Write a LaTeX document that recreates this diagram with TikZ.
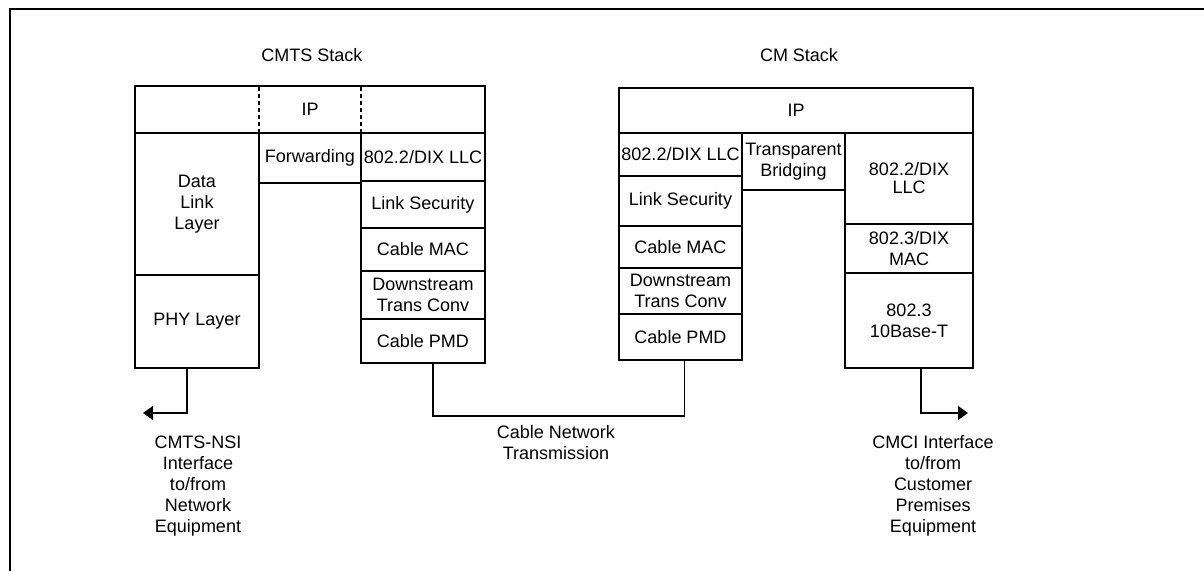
\documentclass[tikz,border=0pt]{standalone}
\usepackage{fontspec}
\setmainfont{Liberation Sans}
\usepackage{tikz}
\usetikzlibrary{positioning, arrows.meta}
\tikzstyle{arrow} = [line width=1.3pt,-{Triangle[length=10pt,width=14pt]}]
\tikzstyle{wire} = [line width=1.3pt]
\tikzstyle{dots} = [line width=1.3pt, dash pattern=on 4pt off 3pt]
\tikzstyle{layer} = [rectangle, draw=black, line width=1.3pt, inner sep=0pt, outer sep=0pt, align=center, text centered]
\tikzstyle{txt} = [align=center, inner sep=0pt]

\begin{document}
\begin{tikzpicture}[x=1pt, y=-1pt, every node/.style={font=\fontsize{18}{21}\selectfont}]
\useasboundingbox (0,0) rectangle (1204,571);
\draw [line width=2pt] (9.5,571) -- (9.5,9) -- (1204,9);

% CMTS stack
\node (cmtsTitle) [txt] at (312,55) {CMTS Stack};
\node (cmtsIP) [layer, anchor=north west, minimum width=350pt, minimum height=47pt] at (135,86) {IP};
\node (dll) [layer, below right=0pt of cmtsIP.south west, minimum width=124pt, minimum height=142pt] {Data\\Link\\Layer};
\node (phy) [layer, below=0pt of dll, minimum width=124pt, minimum height=93pt] {PHY Layer};
\node (fwd) [layer, below right=0pt of dll.north east, minimum width=102pt, minimum height=50pt] {Forwarding};
\node (cmtsLlc) [layer, below right=0pt of fwd.north east, minimum width=124pt, minimum height=48pt] {802.2/DIX LLC};
\node (cmtsSec) [layer, below=0pt of cmtsLlc, minimum width=124pt, minimum height=47pt] {Link Security};
\node (cmtsMac) [layer, below=0pt of cmtsSec, minimum width=124pt, minimum height=43pt] {Cable MAC};
\node (cmtsTc) [layer, below=0pt of cmtsMac, minimum width=124pt, minimum height=48pt] {Downstream\\Trans Conv};
\node (cmtsPmd) [layer, below=0pt of cmtsTc, minimum width=124pt, minimum height=44pt] {Cable PMD};
\draw [dots] (fwd.north west) -- (fwd.north west |- cmtsIP.north);
\draw [dots] (fwd.north east) -- (fwd.north east |- cmtsIP.north);

% CM stack
\node (cmTitle) [txt] at (799,55) {CM Stack};
\node (cmIP) [layer, anchor=north west, minimum width=354pt, minimum height=45pt] at (619,88) {IP};
\node (cmLlc) [layer, below right=0pt of cmIP.south west, minimum width=123pt, minimum height=43pt] {802.2/DIX LLC};
\node (cmSec) [layer, below=0pt of cmLlc, minimum width=123pt, minimum height=50pt] {Link Security};
\node (cmMac) [layer, below=0pt of cmSec, minimum width=123pt, minimum height=42pt] {Cable MAC};
\node (cmTc) [layer, below=0pt of cmMac, minimum width=123pt, minimum height=46pt] {Downstream\\Trans Conv};
\node (cmPmd) [layer, below=0pt of cmTc, minimum width=123pt, minimum height=46pt] {Cable PMD};
\node (bridge) [layer, below right=0pt of cmLlc.north east, minimum width=103pt, minimum height=57pt] {Transparent\\Bridging};
\node (ethLlc) [layer, below right=0pt of bridge.north east, minimum width=128pt, minimum height=91pt] {802.2/DIX\\[-3pt]LLC};
\node (ethMac) [layer, below=0pt of ethLlc, minimum width=128pt, minimum height=49pt] {802.3/DIX\\MAC};
\node (tenBase) [layer, below=0pt of ethMac, minimum width=128pt, minimum height=95pt] {802.3\\10Base-T};

% interfaces
\coordinate (nsiEnd) at (143,413);
\coordinate (cmciEnd) at (968,413);
\coordinate (cableMid) at (559,416);
\draw [arrow] ([xshift=-10pt]phy.south) |- (nsiEnd);
\draw [arrow] ([xshift=12pt]tenBase.south) |- (cmciEnd);
\draw [wire] ([xshift=10pt]cmtsPmd.south) |- (cableMid) -| ([xshift=4pt]cmPmd.south);
\node (nsi) [txt] at (198,486) {CMTS-NSI\\Interface\\to/from\\Network\\Equipment};
\node (cable) [txt] at (556,443) {Cable Network\\Transmission};
\node (cmci) [txt] at (933,486) {CMCI Interface\\to/from\\Customer\\Premises\\Equipment};
\end{tikzpicture}
\end{document}
